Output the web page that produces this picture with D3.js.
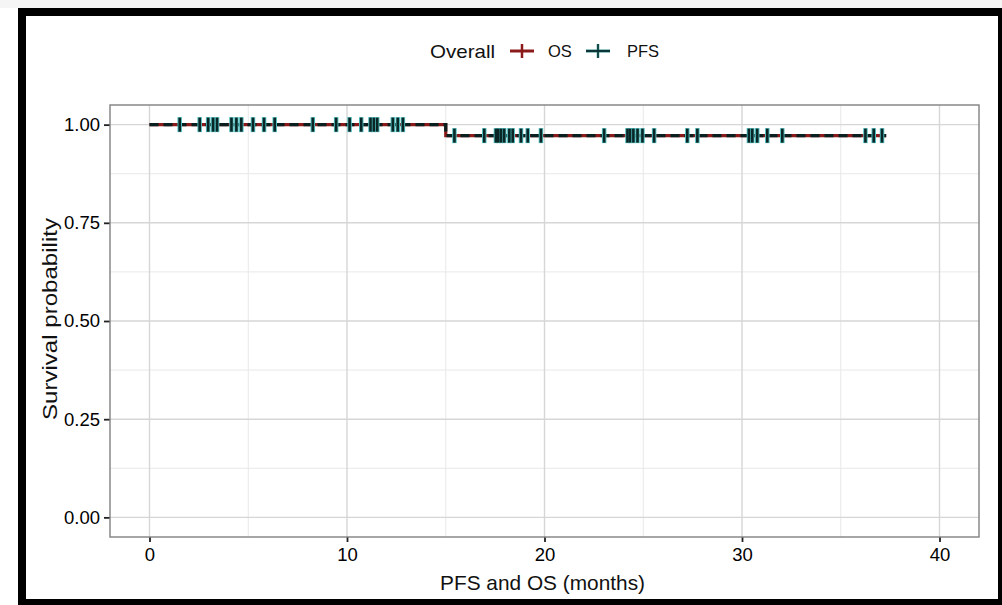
<!DOCTYPE html>
<html>
<head>
<meta charset="utf-8">
<script src="https://cdn.jsdelivr.net/npm/d3@7"></script>
<style>
  body { margin: 0; background: white; }
  text { font-family: "Liberation Sans", Arial, sans-serif; fill: #111; }
</style>
</head>
<body>
<div id="wykres"></div>
<script>
// survival steps (time in months, probability)
var os_kroki = [[0, 1], [15, 1], [15, 0.972], [37.3, 0.972]];
var pfs_kroki = [[0, 1], [15, 1], [15, 0.972], [37.3, 0.972]];

// censored times
var cenzura = [1.53, 2.54, 2.97, 3.22, 3.42, 4.15, 4.4, 4.65, 5.24, 5.8, 6.34, 8.27, 9.45, 10.13,
  10.72, 11.19, 11.36, 11.53, 12.32, 12.57, 12.83,
  15.44, 16.95, 17.54, 17.66, 17.8, 17.96, 18.22, 18.39, 18.81, 19.15, 19.82, 23.02, 24.2, 24.33,
  24.5, 24.71, 24.96, 25.55, 27.23, 27.74, 30.35, 30.52, 30.77, 31.28, 32.04, 36.25, 36.67, 37.09];

var xTicks = [0, 10, 20, 30, 40];
var xMinor = [5, 15, 25, 35];
var yTicks = [0, 0.25, 0.5, 0.75, 1];
var yMinor = [0.125, 0.375, 0.625, 0.875];
var legendaSerie = ["OS", "PFS"];
var kolory = { OS: "#8b1a1a", PFS: "#0d3535" };

var W = 1002, H = 605;
var margin = { top: 105, right: 23, bottom: 68, left: 110 },
  width = W - margin.left - margin.right,
  height = H - margin.top - margin.bottom;

var root = d3.select("#wykres").append("svg")
  .attr("width", W).attr("height", H)
  .style("display", "block");

// frame
root.append("rect").attr("x", 0).attr("y", 0).attr("width", W).attr("height", 8).attr("fill", "#f5f5f5");
root.append("rect").attr("x", 18).attr("y", 8).attr("width", W - 18).attr("height", 8).attr("fill", "black");
root.append("rect").attr("x", 18).attr("y", 8).attr("width", 8).attr("height", H - 8).attr("fill", "black");
root.append("rect").attr("x", 18).attr("y", 599).attr("width", W - 18).attr("height", 6).attr("fill", "black");
root.append("rect").attr("x", 998).attr("y", 8).attr("width", 4).attr("height", H - 8).attr("fill", "black");

var svg = root.append("g")
  .attr("transform", "translate(" + margin.left + "," + margin.top + ")");

var xscale = d3.scaleLinear().domain([-2, 42]).range([0, width]);
var yscale = d3.scaleLinear().domain([-0.05, 1.05]).range([height, 0]);

// grid
svg.append("g").selectAll("line").data(xMinor).enter().append("line")
  .attr("x1", d => xscale(d)).attr("x2", d => xscale(d))
  .attr("y1", 0).attr("y2", height)
  .attr("stroke", "#e8e8e8").attr("stroke-width", 1);
svg.append("g").selectAll("line").data(yMinor).enter().append("line")
  .attr("y1", d => yscale(d)).attr("y2", d => yscale(d))
  .attr("x1", 0).attr("x2", width)
  .attr("stroke", "#e8e8e8").attr("stroke-width", 1);
svg.append("g").selectAll("line").data(xTicks).enter().append("line")
  .attr("x1", d => xscale(d)).attr("x2", d => xscale(d))
  .attr("y1", 0).attr("y2", height)
  .attr("stroke", "#d6d6d6").attr("stroke-width", 1.4);
svg.append("g").selectAll("line").data(yTicks).enter().append("line")
  .attr("y1", d => yscale(d)).attr("y2", d => yscale(d))
  .attr("x1", 0).attr("x2", width)
  .attr("stroke", "#d6d6d6").attr("stroke-width", 1.4);

// axes
var xAxis = svg.append("g")
  .attr("transform", "translate(0," + height + ")")
  .call(d3.axisBottom(xscale).tickValues(xTicks).tickSize(5).tickPadding(6).tickFormat(d3.format("d")));
var yAxis = svg.append("g")
  .call(d3.axisLeft(yscale).tickValues(yTicks).tickSize(6).tickPadding(4).tickFormat(d3.format(".2f")));
[xAxis, yAxis].forEach(function (a) {
  a.select(".domain").remove();
  a.selectAll("line").attr("stroke", "#222").attr("stroke-width", 1.8);
  a.selectAll("text").style("font-size", "18.5px").style("fill", "#000")
    .style("font-family", "'Liberation Sans', Arial, sans-serif");
});

svg.append("rect")
  .attr("width", width).attr("height", height)
  .attr("fill", "none").attr("stroke", "#808080").attr("stroke-width", 1.4);

// curves
var kreska = d3.line().x(d => xscale(d[0])).y(d => yscale(d[1]));

svg.append("path").datum(os_kroki)
  .attr("d", kreska).attr("fill", "none")
  .attr("stroke", kolory.OS).attr("stroke-width", 3.2);
svg.append("path").datum(pfs_kroki)
  .attr("d", kreska).attr("fill", "none")
  .attr("stroke", "#0a1f1f").attr("stroke-width", 3.2)
  .attr("stroke-dasharray", "9,5");

function survAt(kroki, t) {
  var s = 1;
  kroki.forEach(function (k) { if (k[0] < t || (k[0] == t && k[1] == 1)) s = k[1]; });
  return s;
}

// censor marks (OS underneath, PFS on top)
svg.append("g").selectAll("line").data(cenzura).enter().append("line")
  .attr("x1", d => xscale(d)).attr("x2", d => xscale(d))
  .attr("y1", d => yscale(survAt(os_kroki, d)) - 7.5)
  .attr("y2", d => yscale(survAt(os_kroki, d)) + 7.5)
  .attr("stroke", "#4fbcbc").attr("stroke-width", 4.5);
svg.append("g").selectAll("line").data(cenzura).enter().append("line")
  .attr("x1", d => xscale(d)).attr("x2", d => xscale(d))
  .attr("y1", d => yscale(survAt(pfs_kroki, d)) - 7)
  .attr("y2", d => yscale(survAt(pfs_kroki, d)) + 7)
  .attr("stroke", "#0a2626").attr("stroke-width", 2.6);

// titles
root.append("text")
  .attr("x", margin.left + width / 2 - 2).attr("y", 590)
  .attr("text-anchor", "middle")
  .attr("textLength", 205).attr("lengthAdjust", "spacingAndGlyphs")
  .style("font-size", "21px")
  .text("PFS and OS (months)");

root.append("text")
  .attr("transform", "translate(57,319)rotate(-90)")
  .attr("text-anchor", "middle")
  .attr("textLength", 202).attr("lengthAdjust", "spacingAndGlyphs")
  .style("font-size", "20px")
  .text("Survival probability");

// legend
var leg = root.append("g").attr("transform", "translate(0,51)");
leg.append("text").attr("x", 430).attr("y", 7)
  .attr("textLength", 65).attr("lengthAdjust", "spacingAndGlyphs")
  .style("font-size", "19px").text("Overall");
var legX = { OS: 510, PFS: 586 };
legendaSerie.forEach(function (s) {
  var g = leg.append("g").attr("transform", "translate(" + legX[s] + ",0)");
  g.append("line").attr("x1", 0).attr("x2", 24).attr("y1", 0).attr("y2", 0)
    .attr("stroke", s == "PFS" ? "#2a8a8a" : kolory.OS).attr("stroke-width", 3);
  g.append("line").attr("x1", 12).attr("x2", 12).attr("y1", -7).attr("y2", 7)
    .attr("stroke", s == "PFS" ? "#2a8a8a" : kolory.OS).attr("stroke-width", 2.5);
  if (s == "PFS") {
    g.append("line").attr("x1", 0).attr("x2", 24).attr("y1", 0).attr("y2", 0)
      .attr("stroke", kolory.PFS).attr("stroke-width", 2);
    g.append("line").attr("x1", 12).attr("x2", 12).attr("y1", -7).attr("y2", 7)
      .attr("stroke", kolory.PFS).attr("stroke-width", 1.5);
  }
  g.append("text").attr("x", s == "OS" ? 38 : 41).attr("y", 6).style("font-size", "16.5px").text(s);
});
</script>
</body>
</html>
